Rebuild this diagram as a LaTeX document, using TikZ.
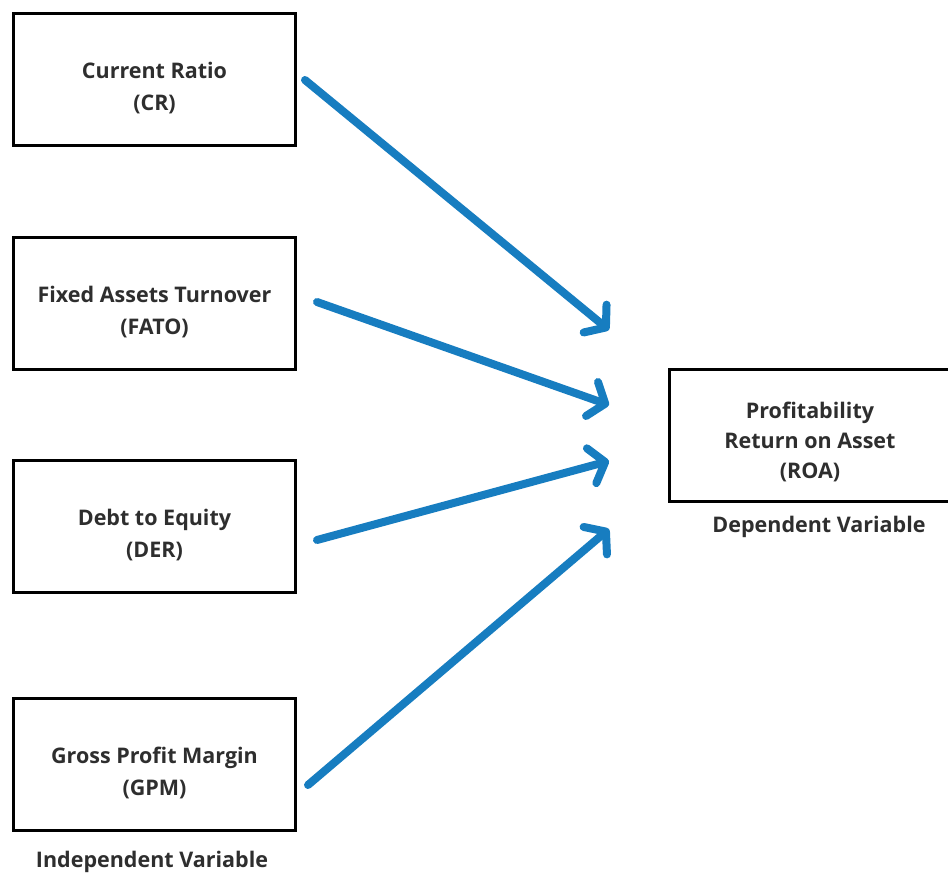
\documentclass[tikz,border=0pt]{standalone}
\usepackage{fontspec}
\setmainfont{Open Sans}
\usetikzlibrary{arrows.meta}
\definecolor{arrowblue}{HTML}{177DC0}
\definecolor{textgray}{HTML}{2E2E2E}
\newcommand{\droptop}[1]{\rule{0pt}{#1}}

\begin{document}
\begin{tikzpicture}[x=1pt, y=-1pt,
		varbox/.style={draw=black, line width=3pt, minimum width=282pt, minimum height=132pt,
			align=center, text=textgray, font=\fontsize{21.5}{32}\selectfont\bfseries},
		varlabel/.style={text=textgray, font=\fontsize{21.5}{32}\selectfont\bfseries},
		link/.style={arrowblue, line width=8pt, line cap=round,
			-{Straight Barb[length=14pt, width=36pt, line cap=round, line join=round]}}]
				\useasboundingbox (0,0) rectangle (948,880);
				\clip (0,0) rectangle (948,880);
				\node[varbox] (cr)   at (154.5, 79.5) {\droptop{34pt}Current Ratio\\(CR)};
				\node[varbox] (fato) at (154.5,303)   {\droptop{34pt}Fixed Assets Turnover\\(FATO)};
				\node[varbox] (der)  at (154.5,526.5) {\droptop{34pt}Debt to Equity\\(DER)};
				\node[varbox] (gpm)  at (154.5,764.5) {\droptop{34pt}Gross Profit Margin\\(GPM)};
				\node[varbox, font=\fontsize{21.5}{30}\selectfont\bfseries] (roa) at (810,435) {\droptop{31pt}Profitability\\Return on Asset\\(ROA)};
				\node[varlabel] (indep) at (152,862) {Independent Variable};
				\node[varlabel] (dep)   at (819,527) {Dependent Variable};
				\coordinate (t1) at (609,330);
				\coordinate (t2) at (609,405);
				\coordinate (t3) at (609,461);
				\coordinate (t4) at (609,529);
				\begin{scope}[link]
					\draw ([shift={(8,0.5)}]cr.east)    -- (t1);
					\draw ([shift={(20,-1)}]fato.east)  -- (t2);
					\draw ([shift={(20,13.5)}]der.east) -- (t3);
					\draw ([shift={(11,20.5)}]gpm.east) -- (t4);
				\end{scope}
			\end{tikzpicture}
\end{document}
